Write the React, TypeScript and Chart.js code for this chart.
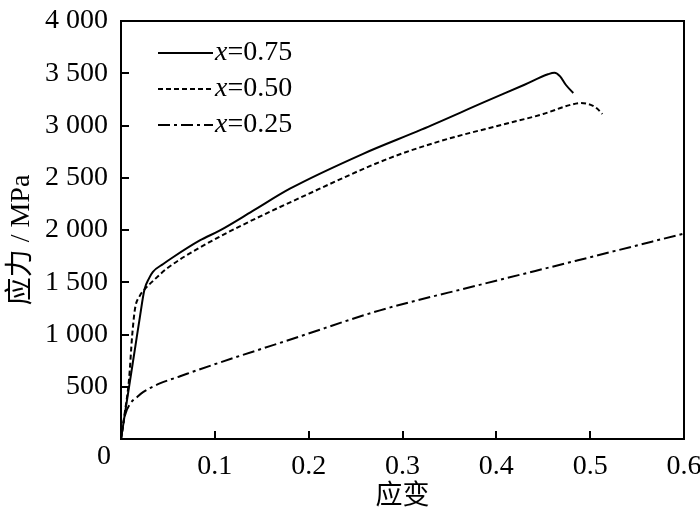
import { useEffect, useRef } from "react";
import { Chart, ChartConfiguration, registerables } from "chart.js";

Chart.register(...registerables);

// strain / stress readings for the three compositions
const strain075 = [0, 0.005, 0.01, 0.015, 0.02, 0.025, 0.03, 0.034, 0.045, 0.055, 0.084, 0.105, 0.14, 0.18, 0.258, 0.32, 0.39, 0.43, 0.455, 0.462, 0.468, 0.474, 0.482];
const stress075 = [0, 290, 580, 870, 1160, 1430, 1540, 1600, 1675, 1737, 1900, 1994, 2180, 2395, 2729, 2960, 3235, 3390, 3490, 3505, 3470, 3390, 3311];

const strain050 = [0, 0.004, 0.0085, 0.012, 0.015, 0.02, 0.025, 0.035, 0.049, 0.084, 0.13, 0.191, 0.284, 0.34, 0.401, 0.45, 0.478, 0.49, 0.5, 0.507, 0.513];
const stress050 = [0, 250, 563, 1000, 1250, 1370, 1430, 1520, 1632, 1832, 2050, 2309, 2680, 2850, 2996, 3110, 3195, 3215, 3200, 3165, 3110];

const strain025 = [0, 0.004, 0.01, 0.017, 0.0235, 0.042, 0.063, 0.081, 0.19, 0.276, 0.38, 0.486, 0.6];
const stress025 = [0, 220, 340, 400, 448, 534, 600, 658, 980, 1231, 1470, 1708, 1966];

const seriesLabels = ["0.75", "0.50", "0.25"];
const seriesDash = [[], [5, 3], [12, 4, 3, 4]];

const xTicks = [0.1, 0.2, 0.3, 0.4, 0.5];
const yTicks = [500, 1000, 1500, 2000, 2500, 3000, 3500];

const FONT = '"Liberation Serif", "Noto Sans CJK SC", serif';

const pts = (xs: number[], ys: number[]) => xs.map((x, i) => ({ x, y: ys[i] }));

const fmtThousands = (v: number) =>
  v >= 1000 ? `${Math.floor(v / 1000)} ${String(v % 1000).padStart(3, "0")}` : String(v);

const decorPlugin = {
  id: "decor",
  afterDraw(chart: any) {
    const ctx = chart.ctx;
    const { left, right, top, bottom } = chart.chartArea;
    const xs = chart.scales.x;
    const ys = chart.scales.y;
    ctx.save();
    ctx.setLineDash([]);
    ctx.strokeStyle = "#000";
    ctx.fillStyle = "#000";
    ctx.lineWidth = 2;
    ctx.strokeRect(left, top, right - left, bottom - top);

    // inward ticks
    xTicks.forEach((v) => {
      const px = xs.getPixelForValue(v);
      ctx.fillRect(Math.round(px) - 1, bottom - 8, 2, 8);
    });
    yTicks.forEach((v) => {
      const py = ys.getPixelForValue(v);
      ctx.fillRect(left, Math.round(py) - 1, 8, 2);
    });

    ctx.textBaseline = "middle";

    // shared origin label
    ctx.font = `28px ${FONT}`;
    ctx.textAlign = "center";
    ctx.fillText("0", left - 17, bottom + 18);

    // y axis title
    ctx.save();
    ctx.translate(22, (top + bottom) / 2 + 10);
    ctx.rotate(-Math.PI / 2);
    ctx.font = `28px ${FONT}`;
    ctx.fillText("应力 / MPa", 0, 0);
    ctx.restore();

    // legend
    const lx0 = left + 37;
    const lx1 = left + 92;
    seriesLabels.forEach((lab, i) => {
      const y = top + 32 + i * 36;
      ctx.beginPath();
      ctx.setLineDash(seriesDash[i]);
      ctx.lineWidth = 2;
      ctx.moveTo(lx0, y);
      ctx.lineTo(lx1, y);
      ctx.stroke();
      ctx.setLineDash([]);
      ctx.textAlign = "left";
      ctx.font = `italic 28px ${FONT}`;
      ctx.fillText("x", lx1 + 2, y);
      const w = ctx.measureText("x").width;
      ctx.font = `28px ${FONT}`;
      ctx.fillText("=" + lab, lx1 + 2 + w, y);
    });
    ctx.restore();
  },
};

export default function App() {
  const canvasRef = useRef<HTMLCanvasElement>(null);
  const chartInstance = useRef<Chart | null>(null);

  useEffect(() => {
    if (!canvasRef.current) return;
    if (chartInstance.current) chartInstance.current.destroy();

    const data = [pts(strain075, stress075), pts(strain050, stress050), pts(strain025, stress025)];

    const config: ChartConfiguration = {
      type: "line",
      data: {
        datasets: data.map((d, i) => ({
          label: "x=" + seriesLabels[i],
          data: d,
          borderColor: "#000",
          borderWidth: 2,
          borderDash: seriesDash[i],
          pointRadius: 0,
          fill: false,
          cubicInterpolationMode: "monotone" as const,
        })),
      },
      options: {
        animation: false,
        responsive: true,
        maintainAspectRatio: false,
        layout: { padding: { top: 21, right: 16, left: 0, bottom: 0 } },
        plugins: {
          legend: { display: false },
          tooltip: { enabled: false },
        },
        scales: {
          x: {
            type: "linear",
            min: 0,
            max: 0.6,
            grid: { display: false, drawTicks: false },
            border: { display: true, color: "#000", width: 2 },
            ticks: {
              stepSize: 0.1,
              padding: 11,
              color: "#000",
              font: { family: FONT, size: 28 },
              callback: (v: any) => (Number(v) === 0 ? "" : Number(v).toFixed(1)),
            },
            title: {
              display: true,
              text: "应变",
              color: "#000",
              font: { family: FONT, size: 27 },
              padding: { top: 0, bottom: 3 },
            },
            afterFit: (scale: any) => {
              scale.height = 77;
              scale.paddingLeft = 0;
              scale.paddingRight = 0;
            },
          },
          y: {
            type: "linear",
            min: 0,
            max: 4000,
            grid: { display: false, drawTicks: false },
            border: { display: true, color: "#000", width: 2 },
            ticks: {
              stepSize: 500,
              padding: 13,
              color: "#000",
              font: { family: FONT, size: 28 },
              callback: (v: any) => (Number(v) === 0 ? "" : fmtThousands(Number(v))),
            },
            afterFit: (scale: any) => {
              scale.width = 121;
              scale.paddingTop = 0;
              scale.paddingBottom = 0;
            },
          },
        },
      },
      plugins: [decorPlugin],
    };

    chartInstance.current = new Chart(canvasRef.current, config);

    return () => {
      if (chartInstance.current) {
        chartInstance.current.destroy();
        chartInstance.current = null;
      }
    };
  }, []);

  return (
    <div style={{ position: "absolute", left: 0, top: 0, width: 700, height: 516, background: "#fff" }}>
      <canvas ref={canvasRef}></canvas>
    </div>
  );
}
